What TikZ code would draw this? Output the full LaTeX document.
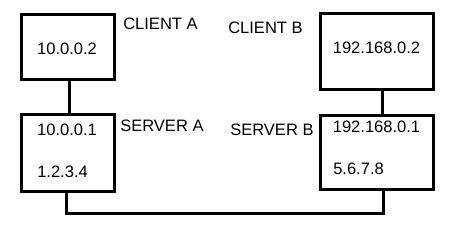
\documentclass[tikz,border=0pt]{standalone}
\usepackage{fontspec}
\setmainfont{Liberation Sans}
\usetikzlibrary{positioning}

\begin{document}
\begin{tikzpicture}[x=0.75pt, y=-0.75pt, every node/.style={font=\fontsize{12.4}{14}\selectfont, inner sep=0pt}, box/.style={draw, line width=2.25pt, minimum width=69.75pt}, wire/.style={line width=2.25pt}]
    \useasboundingbox (0,0) rectangle (462,235);
    \node[box, minimum height=48.5pt] (clientA) at (68,47.2) {};
    \node[box, minimum height=57.5pt] (serverA) at (68,153.2) {};
    \node[box, minimum width=84.5pt, minimum height=56.5pt] (clientB) at (377.2,51.5) {};
    \node[box, minimum width=84.5pt, minimum height=55.3pt] (serverB) at (377.2,152.4) {};
    \node (ipA2) at (67,49) {10.0.0.2};
    \node (ipA1) at (67,129.5) {10.0.0.1};
    \node[anchor=west] (pubA) at (37,171.5) {1.2.3.4};
    \node (ipB2) at (376.5,47.5) {192.168.0.2};
    \node (ipB1) at (376.5,126.5) {192.168.0.1};
    \node[anchor=west] (pubB) at (333,169) {5.6.7.8};
    \node[anchor=west] (labClientA) at (123,24) {CLIENT A};
    \node[anchor=west] (labServerA) at (120,126) {SERVER A};
    \node[anchor=west] (labClientB) at (228,28) {CLIENT B};
    \node[anchor=west] (labServerB) at (230,130) {SERVER B};
    \draw[wire] (clientA.south) ++(1.5,0) coordinate (a1) -- (a1 |- serverA.north);
    \draw[wire] (clientB.south) ++(5.3,0) coordinate (b1) -- (b1 |- serverB.north);
    \coordinate (bus) at (0,213.8);
    \draw[wire] ([xshift=-1.5*0.75pt]serverA.south) -- ([xshift=-1.5*0.75pt]serverA.south |- bus) -| ([xshift=6.3*0.75pt]serverB.south);
\end{tikzpicture}
\end{document}
